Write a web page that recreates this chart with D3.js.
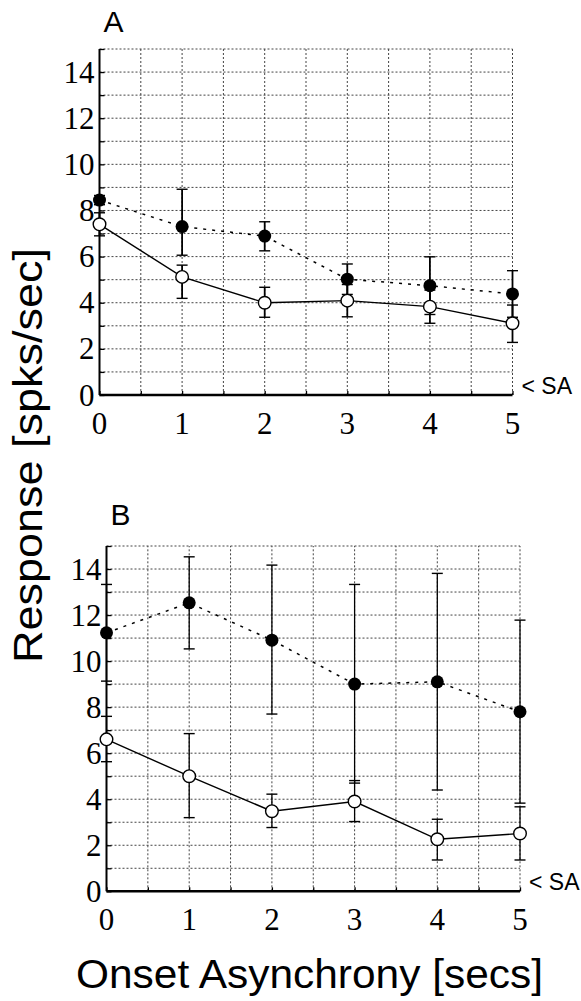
<!DOCTYPE html>
<html>
<head>
<meta charset="utf-8">
<script src="https://cdn.jsdelivr.net/npm/d3@7"></script>
<style>
  body { margin: 0; background: #fff; }
  svg { display: block; }
</style>
</head>
<body>
<svg width="581" height="1001"></svg>
<script>
// onset asynchrony (secs)
const asynchrony = [0, 1, 2, 3, 4, 5];
const xTicks = [0, 1, 2, 3, 4, 5];
const yTicks = [0, 2, 4, 6, 8, 10, 12, 14];

// panel A
const aFilled   = [8.45, 7.3, 6.89, 5.02, 4.74, 4.38];
const aFilledHi = [8.65, 8.92, 7.51, 5.68, 5.99, 5.39];
const aFilledLo = [8.25, 6.06, 6.25, 4.36, 3.49, 3.37];
const aOpen     = [7.4, 5.12, 4.0, 4.09, 3.83, 3.11];
const aOpenHi   = [7.9, 5.63, 4.67, 4.79, 4.55, 3.9];
const aOpenLo   = [6.9, 4.19, 3.37, 3.39, 3.11, 2.28];

// panel B
const bFilled   = [11.23, 12.53, 10.91, 9.0, 9.1, 7.8];
const bFilledHi = [13.33, 14.53, 14.17, 13.33, 13.81, 11.78];
const bFilledLo = [9.13, 10.53, 7.7, 4.7, 4.4, 3.83];
const bOpen     = [6.6, 5.0, 3.48, 3.9, 2.26, 2.51];
const bOpenHi   = [7.6, 6.85, 4.22, 4.81, 3.13, 3.67];
const bOpenLo   = [5.63, 3.2, 2.77, 3.03, 1.36, 1.36];

const svg = d3.select("svg");
const serif = "'Liberation Serif', 'Times New Roman', serif";
const sans = "'Liberation Sans', Arial, sans-serif";

function drawPanel(p) {
  const x = d3.scaleLinear().domain([0, 5]).range([p.left, p.right]);
  const y = d3.scaleLinear().domain([0, 15]).range([p.bottom, p.top]);
  const g = svg.append("g");

  // dotted grid
  g.selectAll(".vgrid")
    .data(d3.range(0.5, 5.01, 0.5))
    .enter().append("line")
    .attr("x1", d => x(d)).attr("x2", d => x(d))
    .attr("y1", y(0)).attr("y2", y(15))
    .attr("stroke", "#444").attr("stroke-width", 1)
    .attr("stroke-dasharray", "2,2");
  g.selectAll(".hgrid")
    .data(d3.range(1, 15.01, 1))
    .enter().append("line")
    .attr("x1", x(0)).attr("x2", x(5))
    .attr("y1", d => y(d)).attr("y2", d => y(d))
    .attr("stroke", "#444").attr("stroke-width", 1)
    .attr("stroke-dasharray", "2,2");

  // axes
  const yAxis = g.append("g")
    .attr("transform", `translate(${x(0)},0)`)
    .call(d3.axisRight(y).tickValues(d3.range(0, 16)).tickSize(5).tickFormat(""));
  yAxis.select(".domain").attr("stroke-width", 2).attr("d", `M0,${y(0)}V${y(15)}`);
  yAxis.selectAll(".tick line").attr("stroke-width", 1.3);

  const xAxis = g.append("g")
    .attr("transform", `translate(0,${y(0)})`)
    .call(d3.axisTop(x).tickValues(d3.range(0, 5.01, 0.5)).tickSize(4).tickFormat(""));
  xAxis.select(".domain").attr("stroke-width", 2.5).attr("d", `M${x(0)},0H${x(5)}`);
  xAxis.selectAll(".tick line").attr("stroke-width", 1.3);

  // tick labels
  g.selectAll(".ylab")
    .data(yTicks)
    .enter().append("text")
    .attr("x", x(0) - 5)
    .attr("y", d => y(d) + 10.5)
    .attr("text-anchor", "end")
    .attr("font-family", serif).attr("font-size", 31)
    .text(d => d);
  g.selectAll(".xlab")
    .data(xTicks)
    .enter().append("text")
    .attr("x", d => x(d))
    .attr("y", y(0) + 39)
    .attr("text-anchor", "middle")
    .attr("font-family", serif).attr("font-size", 31)
    .text(d => d);

  // panel letter and SA marker
  g.append("text")
    .attr("x", p.left + 4).attr("y", p.letterY)
    .attr("font-family", sans).attr("font-size", 30)
    .text(p.letter);
  g.append("text")
    .attr("x", x(5) + 9).attr("y", y(0) - 1)
    .attr("font-family", sans).attr("font-size", 23)
    .text("< SA");

  const line = d3.line().x((d, i) => x(asynchrony[i])).y(d => y(d));

  // connecting lines
  g.append("path").datum(p.filled).attr("d", line)
    .attr("fill", "none").attr("stroke", "#000")
    .attr("stroke-width", 1.5).attr("stroke-dasharray", "3,6");
  g.append("path").datum(p.open).attr("d", line)
    .attr("fill", "none").attr("stroke", "#000").attr("stroke-width", 1.4);

  // error bars
  function bars(hi, lo) {
    asynchrony.forEach((a, i) => {
      const cx = x(a);
      g.append("line").attr("x1", cx).attr("x2", cx)
        .attr("y1", y(hi[i])).attr("y2", y(lo[i]))
        .attr("stroke", "#000").attr("stroke-width", p.barWidth);
      [hi[i], lo[i]].forEach(v => {
        g.append("line").attr("x1", cx - 5.5).attr("x2", cx + 5.5)
          .attr("y1", y(v)).attr("y2", y(v))
          .attr("stroke", "#000").attr("stroke-width", 1.4);
      });
    });
  }
  bars(p.filledHi, p.filledLo);
  bars(p.openHi, p.openLo);

  // markers
  g.selectAll(".filled")
    .data(p.filled)
    .enter().append("circle")
    .attr("cx", (d, i) => x(asynchrony[i])).attr("cy", d => y(d))
    .attr("r", 6.5).attr("fill", "#000");
  g.selectAll(".open")
    .data(p.open)
    .enter().append("circle")
    .attr("cx", (d, i) => x(asynchrony[i])).attr("cy", d => y(d))
    .attr("r", 6.3).attr("fill", "#fff").attr("stroke", "#000").attr("stroke-width", 1.4);
}

drawPanel({
  left: 99.5, right: 512.5, top: 49, bottom: 395,
  letter: "A", letterY: 32, barWidth: 1.8,
  filled: aFilled, filledHi: aFilledHi, filledLo: aFilledLo,
  open: aOpen, openHi: aOpenHi, openLo: aOpenLo
});
drawPanel({
  left: 106.5, right: 520, top: 546, bottom: 891.3,
  letter: "B", letterY: 525, barWidth: 1.3,
  filled: bFilled, filledHi: bFilledHi, filledLo: bFilledLo,
  open: bOpen, openHi: bOpenHi, openLo: bOpenLo
});

// axis titles
svg.append("text")
  .attr("transform", "translate(41.5,455.5) rotate(-90)")
  .attr("text-anchor", "middle")
  .attr("font-family", sans).attr("font-size", 40)
  .attr("textLength", 415).attr("lengthAdjust", "spacingAndGlyphs")
  .text("Response [spks/sec]");
svg.append("text")
  .attr("x", 309.5).attr("y", 988)
  .attr("text-anchor", "middle")
  .attr("font-family", sans).attr("font-size", 40)
  .attr("textLength", 467).attr("lengthAdjust", "spacingAndGlyphs")
  .text("Onset Asynchrony [secs]");
</script>
</body>
</html>
